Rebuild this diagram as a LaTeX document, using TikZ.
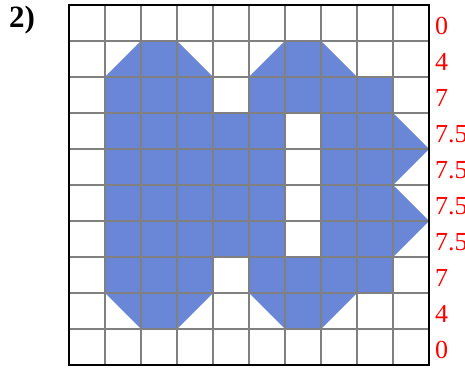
\documentclass[tikz,border=0pt]{standalone}
\usepackage{fontspec}
\setmainfont{Liberation Serif}
\definecolor{shapeblue}{RGB}{106,134,214}
\definecolor{gridgray}{RGB}{128,128,128}
\tikzset{
  rowlabel/.style={anchor=base west, inner sep=0pt, text=red, font=\fontsize{26}{26}\selectfont},
  titlelabel/.style={anchor=base west, inner sep=0pt, font=\fontsize{31}{31}\selectfont\bfseries},
  gridline/.style={draw=gridgray, line width=1.3pt},
  border/.style={draw=black, line width=2.6pt, line cap=rect},
  shapefill/.style={fill=shapeblue, even odd rule}
}
\begin{document}
\begin{tikzpicture}[x=36pt,y=36pt]
\useasboundingbox (-69/36,-6/36) rectangle (396/36,365/36);
\clip (-69/36,-6/36) rectangle (396/36,365/36);
% shape
\path[shapefill] (1,8) -- (2,9) -- (3,9) -- (4,8) -- (4,7) -- (5,7) -- (5,8) -- (6,9) -- (7,9) -- (8,8) -- (9,8) -- (9,7) -- (10,6) -- (9,5) -- (10,4) -- (9,3) -- (9,2) -- (8,2) -- (7,1) -- (6,1) -- (5,2) -- (5,3) -- (4,3) -- (4,2) -- (3,1) -- (2,1) -- (1,2) -- cycle
  (6,3) -- (7,3) -- (7,7) -- (6,7) -- cycle;
% grid
\foreach \i in {1,...,9} {
  \draw[gridline] (\i,0) -- (\i,10);
  \draw[gridline] (0,\i) -- (10,\i);
}
% border
\draw[border] (0,0) rectangle (10,10);
% labels
\node[titlelabel] (title) at (-60/36,9.361) {2)};
\node[rowlabel] (l0) at (10.167,9.5-0.306) {0};
\node[rowlabel] (l1) at (10.167,8.5-0.306) {4};
\node[rowlabel] (l2) at (10.167,7.5-0.306) {7};
\node[rowlabel] (l3) at (10.167,6.5-0.306) {7.5};
\node[rowlabel] (l4) at (10.167,5.5-0.306) {7.5};
\node[rowlabel] (l5) at (10.167,4.5-0.306) {7.5};
\node[rowlabel] (l6) at (10.167,3.5-0.306) {7.5};
\node[rowlabel] (l7) at (10.167,2.5-0.306) {7};
\node[rowlabel] (l8) at (10.167,1.5-0.306) {4};
\node[rowlabel] (l9) at (10.167,0.5-0.306) {0};
\end{tikzpicture}
\end{document}
